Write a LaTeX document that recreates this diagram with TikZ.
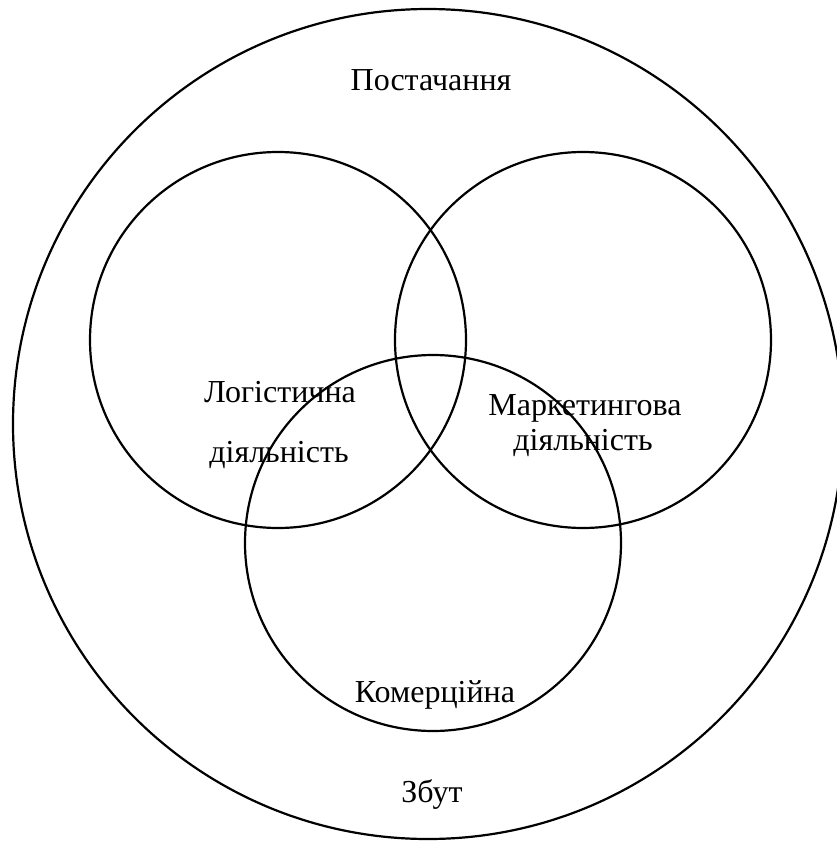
\documentclass[tikz,border=0pt]{standalone}
\usepackage{fontspec}
\setmainfont{Liberation Serif}
\begin{document}
\begin{tikzpicture}[x=1pt,y=-1pt,
  ring/.style={draw=black,line width=2.2pt,circle,inner sep=0pt},
  lbl/.style={font=\fontsize{32}{36}\selectfont,inner sep=0pt,anchor=base}]
\useasboundingbox (0,0) rectangle (837,841);
\draw[line width=2.2pt] (428,424) circle[radius=415];
\node[ring,minimum size=376] (L) at (278,340) {};
\node[ring,minimum size=376] (R) at (583,340) {};
\node[ring,minimum size=376] (B) at (433,543) {};
\node[lbl] (t1) at (431,90) {Постачання};
\node[lbl] (t2) at (280,402) {Логістична};
\node[lbl] (t3) at (279,462) {діяльність};
\node[lbl] (t4) at (585,415) {Маркетингова};
\node[lbl] (t5) at (583,450) {діяльність};
\node[lbl] (t6) at (435,702) {Комерційна};
\node[lbl] (t7) at (432,802) {Збут};
\end{tikzpicture}
\end{document}
